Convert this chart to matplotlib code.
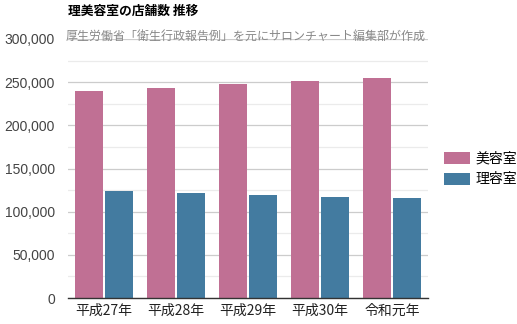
import numpy as np
import matplotlib
matplotlib.use("Agg")
import matplotlib.pyplot as plt
from matplotlib.ticker import FuncFormatter, MultipleLocator

plt.rcParams['font.family'] = ['Liberation Sans', 'Noto Sans CJK JP', 'DejaVu Sans']
jp = ['Noto Sans CJK JP', 'DejaVu Sans']

years = ['平成27年', '平成28年', '平成29年', '平成30年', '令和元年']
biyou = [240299, 243360, 247578, 251140, 254422]
riyou = [123910, 121412, 119053, 117389, 115734]
series_names = ['美容室', '理容室']
colors = ['#C07094', '#437BA0']

W, H = 517, 324
fig = plt.figure(figsize=(W / 100, H / 100), dpi=100)
ax = fig.add_axes([68 / W, 1 - 298 / H, (428 - 68) / W, (298 - 39) / H])

x = np.arange(len(years))
bw = 0.39
ax.bar(x - bw / 2 - 0.007, biyou, bw, color=colors[0], label=series_names[0], zorder=3)
ax.bar(x + bw / 2 + 0.007, riyou, bw, color=colors[1], label=series_names[1], zorder=3)

ax.set_xlim(-0.5, len(years) - 0.5)
ax.set_ylim(0, 300000)
ax.yaxis.set_major_locator(MultipleLocator(50000))
ax.yaxis.set_minor_locator(MultipleLocator(25000))
ax.yaxis.set_major_formatter(FuncFormatter(lambda v, p: f'{int(v):,}'))
ax.grid(axis='y', which='major', color='#cccccc', lw=0.9, zorder=0)
ax.grid(axis='y', which='minor', color='#ebebeb', lw=0.9, zorder=0)
ax.set_xticks(x)
ax.set_xticklabels(years, family=jp)
ax.tick_params(axis='both', which='both', length=0, labelsize=10, colors='#222222')
ax.tick_params(axis='y', labelcolor='#444444', pad=9.5)
ax.tick_params(axis='x', pad=4)
for s in ['top', 'right', 'left']:
    ax.spines[s].set_visible(False)
ax.spines['bottom'].set_color('#333333')
ax.spines['bottom'].set_linewidth(1.0)
ax.spines['bottom'].set_zorder(4)

fig.text(68 / W, 1 - 11 / H, '理美容室の店舗数 推移', fontsize=9.2, fontweight='bold',
         color='#000000', va='center', ha='left', family=jp)
sub = fig.text(66 / W, 1 - 36 / H, '厚生労働省「衛生行政報告例」を元にサロンチャート編集部が作成',
               fontsize=9, color='#888888', va='center', ha='left', family=jp)

# fit the subtitle to the width it has in the reference (~360 px)
r = fig.canvas.get_renderer()
w = sub.get_window_extent(r).width
sub.set_fontsize(9 * 360 / w)

leg = ax.legend(loc='center left', bbox_to_anchor=(438 / W, 1 - 169 / H),
                bbox_transform=fig.transFigure, frameon=False,
                prop={'family': jp, 'size': 10},
                handlelength=1.9, handleheight=1.0, handletextpad=0.4, labelspacing=0.5,
                borderaxespad=0)

fig.savefig('out.png', dpi=100)
